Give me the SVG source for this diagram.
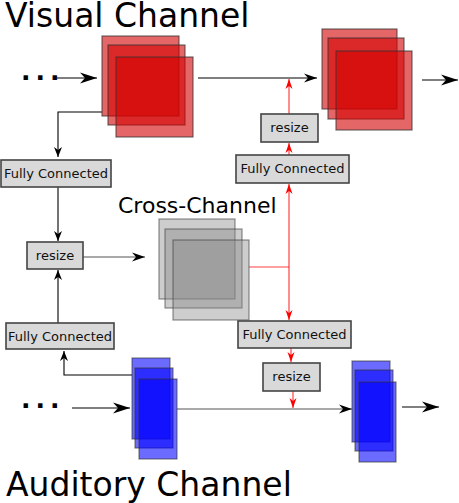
<svg xmlns="http://www.w3.org/2000/svg" width="459" height="503" viewBox="0 0 459 503">
<style>
.title{font-family:"DejaVu Sans",sans-serif;fill:#000}
.lbl{font-family:"DejaVu Sans",sans-serif;font-size:13px;fill:#111;text-anchor:middle}
.box{fill:#d9d9d9;stroke:#444;stroke-width:1.6}
.red{fill:#d40000;fill-opacity:0.6;stroke:#333;stroke-opacity:0.7;stroke-width:1.2}
.blue{fill:#0000ff;fill-opacity:0.58;stroke:#333;stroke-opacity:0.6;stroke-width:1.2}
.gray{fill:#888;fill-opacity:0.42;stroke:#444;stroke-opacity:0.6;stroke-width:1.2}
.dots{font-family:"DejaVu Sans",sans-serif;font-weight:bold;font-size:25px;letter-spacing:5px}
.k{fill:none;stroke:#000;stroke-width:1.1}
.kg{fill:none;stroke:#555;stroke-width:1.2}
.r{fill:none;stroke:#ff0000;stroke-opacity:0.75;stroke-width:1.2}
</style>
<defs>
<marker id="ab" viewBox="-17 -6 17 12" refX="0" refY="0" markerWidth="17" markerHeight="12" markerUnits="userSpaceOnUse" orient="auto"><path d="M0,0 L-17,-5.5 L-12,0 L-17,5.5 Z" fill="#000"/></marker>
<marker id="am" viewBox="-13 -5 13 10" refX="0" refY="0" markerWidth="13" markerHeight="10" markerUnits="userSpaceOnUse" orient="auto"><path d="M0,0 L-13,-4.5 L-9,0 L-13,4.5 Z" fill="#000"/></marker>
<marker id="as" viewBox="-10 -5 10 10" refX="0" refY="0" markerWidth="10" markerHeight="10" markerUnits="userSpaceOnUse" orient="auto"><path d="M0,0 L-10,-4 L-7,0 L-10,4 Z" fill="#000"/></marker>
<marker id="ar" viewBox="-10 -5 10 10" refX="0" refY="0" markerWidth="10" markerHeight="10" markerUnits="userSpaceOnUse" orient="auto"><path d="M0,0 L-10,-3.5 L-7,0 L-10,3.5 Z" fill="#ff0000"/></marker>
</defs>

<text class="title" x="5" y="27" font-size="33">Visual Channel</text>
<text class="title" x="6" y="496" font-size="33">Auditory Channel</text>
<text class="title" x="118" y="213" font-size="22">Cross-Channel</text>
<text class="dots" x="21" y="80">...</text>
<text class="dots" x="21" y="408">...</text>

<g id="connectors">
<path class="k" d="M57,78 L97,78" marker-end="url(#ab)"/>
<path class="k" d="M198,78 L317,78" marker-end="url(#am)"/>
<path class="k" d="M422,80 L458,80" marker-end="url(#ab)"/>
<path class="k" d="M102,112 L58,112 L58,157" marker-end="url(#as)"/>
<path class="k" d="M58,187 L58,241" marker-end="url(#as)"/>
<path class="kg" d="M83,257 L145,257" marker-end="url(#am)"/>
<path class="k" d="M58,323 L58,270" marker-end="url(#as)"/>
<path class="k" d="M132,375 L64,375 L64,351" marker-end="url(#as)"/>
<path class="k" d="M72,408 L130,408" marker-end="url(#ab)"/>
<path class="kg" d="M177,409 L352,409" marker-end="url(#am)"/>
<path class="k" d="M402,407 L439,407" marker-end="url(#ab)"/>
<path class="r" d="M249,267 L289,267"/>
<path class="r" d="M289,267 L289,184" marker-end="url(#ar)"/>
<path class="r" d="M289,267 L289,320" marker-end="url(#ar)"/>
<path class="r" d="M289,155 L289,143" marker-end="url(#ar)"/>
<path class="r" d="M289,114 L289,79" marker-end="url(#ar)"/>
<path class="r" d="M291,348 L291,362" marker-end="url(#ar)"/>
<path class="r" d="M293,391 L293,408" marker-end="url(#ar)"/>
</g>

<g id="visual-in">
<rect class="red" x="102" y="36" width="77" height="80"/>
<rect class="red" x="108" y="45" width="77" height="80"/>
<rect class="red" x="116" y="57" width="77" height="80"/>
</g>
<g id="visual-out">
<rect class="red" x="322" y="29" width="75" height="80"/>
<rect class="red" x="328" y="38" width="76" height="81"/>
<rect class="red" x="336" y="51" width="76" height="79"/>
</g>
<g id="cross">
<rect class="gray" x="159" y="219" width="76" height="80"/>
<rect class="gray" x="165" y="229" width="77" height="79"/>
<rect class="gray" x="173" y="240" width="76" height="80"/>
</g>
<g id="audio-in">
<rect class="blue" x="132" y="358" width="38" height="81"/>
<rect class="blue" x="135" y="368" width="38" height="80"/>
<rect class="blue" x="139" y="379" width="38" height="80"/>
</g>
<g id="audio-out">
<rect class="blue" x="352" y="361" width="38" height="81"/>
<rect class="blue" x="355" y="370" width="38" height="81"/>
<rect class="blue" x="359" y="382" width="37" height="80"/>
</g>

<g id="fc-visual">
<rect class="box" x="1" y="160" width="110" height="27"/>
<text class="lbl" x="56" y="178">Fully Connected</text>
</g>
<g id="resize-left">
<rect class="box" x="27" y="242" width="56" height="27"/>
<text class="lbl" x="55" y="260">resize</text>
</g>
<g id="fc-audio">
<rect class="box" x="6" y="323" width="108" height="26"/>
<text class="lbl" x="60" y="341">Fully Connected</text>
</g>
<g id="fc-top">
<rect class="box" x="236" y="155" width="113" height="28"/>
<text class="lbl" x="292.5" y="173">Fully Connected</text>
</g>
<g id="resize-top">
<rect class="box" x="261" y="114" width="57" height="28"/>
<text class="lbl" x="289.5" y="132">resize</text>
</g>
<g id="fc-bottom">
<rect class="box" x="238" y="321" width="113" height="27"/>
<text class="lbl" x="294.5" y="339">Fully Connected</text>
</g>
<g id="resize-bottom">
<rect class="box" x="263" y="363" width="57" height="28"/>
<text class="lbl" x="291.5" y="381">resize</text>
</g>
</svg>
